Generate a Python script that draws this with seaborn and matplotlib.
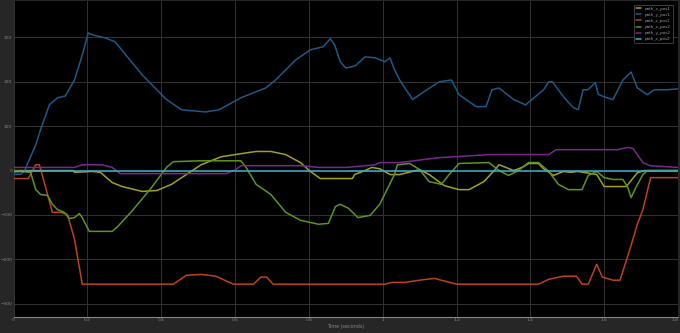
import numpy as np
import pandas as pd
import matplotlib
matplotlib.use("Agg")
import matplotlib.pyplot as plt
import seaborn as sns

# 各信号の (時刻, 値) を画像から読み取った値
path_y_pos1_t = [0.0, 0.02, 0.03, 0.06, 0.073, 0.097, 0.119, 0.14, 0.165, 0.186, 0.202, 0.213, 0.248, 0.275,
                 0.348, 0.414, 0.455, 0.52, 0.557, 0.616, 0.683, 0.71, 0.764, 0.804, 0.839, 0.858, 0.87, 0.885,
                 0.9, 0.926, 0.952, 0.98, 1.006, 1.02, 1.03, 1.046, 1.081, 1.1, 1.153, 1.186, 1.207, 1.253,
                 1.28, 1.296, 1.315, 1.355, 1.387, 1.436, 1.45, 1.46, 1.49, 1.516, 1.53, 1.543, 1.556, 1.576,
                 1.584, 1.6, 1.624, 1.651, 1.673, 1.69, 1.717, 1.736, 1.77, 1.8]
path_y_pos1_v = [-9, -8, 0, 58, 92, 148, 164, 168, 204, 260, 310, 306, 299, 290,
                 216, 160, 137, 132, 137, 164, 186, 204, 249, 272, 279, 297, 283, 245,
                 231, 236, 256, 254, 245, 254, 231, 204, 160, 171, 200, 204, 171, 144,
                 144, 182, 186, 160, 148, 182, 200, 200, 166, 142, 137, 182, 182, 198,
                 172, 166, 160, 204, 222, 186, 171, 182, 182, 184]

path_z_pos1_t = [0.0, 0.04, 0.06, 0.07, 0.092, 0.105, 0.127, 0.146, 0.165, 0.186, 0.433, 0.468, 0.508,
                 0.548, 0.595, 0.65, 0.67, 0.685, 0.703, 1.006, 1.025, 1.06, 1.1, 1.14, 1.2, 1.422, 1.45,
                 1.49, 1.525, 1.54, 1.557, 1.58, 1.595, 1.624, 1.643, 1.67, 1.69, 1.705, 1.718, 1.726, 1.8]
path_z_pos1_v = [-18, -18, 13, 13, -54, -94, -94, -99, -155, -256, -256, -236, -234,
                 -238, -256, -256, -240, -240, -256, -256, -252, -252, -247, -243, -256, -256, -245,
                 -238, -238, -256, -256, -211, -240, -247, -247, -177, -121, -88, -43, -16, -16]

path_x_pos1_t = [0.0, 0.16, 0.165, 0.213, 0.235, 0.267, 0.294, 0.348, 0.388, 0.428, 0.468, 0.508, 0.562,
                 0.616, 0.657, 0.697, 0.737, 0.777, 0.804, 0.831, 0.918, 0.924, 0.952, 0.97, 0.992, 1.02,
                 1.046, 1.1, 1.126, 1.167, 1.207, 1.234, 1.274, 1.3, 1.315, 1.328, 1.355, 1.368, 1.382,
                 1.396, 1.422, 1.436, 1.463, 1.49, 1.508, 1.53, 1.58, 1.6, 1.64, 1.66, 1.69, 1.71, 1.8]
path_x_pos1_v = [0, 0, -4, -2, -4, -27, -36, -47, -45, -31, -9, 13, 31,
                 38, 43, 43, 36, 18, -2, -18, -18, -9, 0, 7, 4, -9,
                 -9, 2, -9, -34, -43, -43, -25, -2, 13, 9, 0, 4, 9,
                 16, 16, 4, -11, -2, -4, -2, -9, -36, -36, -36, -5, 0, 0]

path_x_pos2_t = [0.0, 0.046, 0.06, 0.073, 0.092, 0.105, 0.119, 0.137, 0.151, 0.165, 0.178, 0.186, 0.205,
                 0.267, 0.28, 0.32, 0.374, 0.414, 0.433, 0.508, 0.616, 0.63, 0.657, 0.697, 0.737, 0.777,
                 0.826, 0.853, 0.872, 0.885, 0.907, 0.933, 0.966, 0.992, 1.032, 1.04, 1.073, 1.1, 1.126,
                 1.159, 1.18, 1.207, 1.288, 1.315, 1.341, 1.368, 1.395, 1.422, 1.45, 1.476, 1.503, 1.54,
                 1.557, 1.58, 1.6, 1.624, 1.651, 1.664, 1.673, 1.686, 1.705, 1.718, 1.8]
path_x_pos2_v = [0, -4, -43, -54, -56, -76, -88, -94, -108, -106, -97, -106, -137,
                 -137, -128, -92, -38, 7, 20, 22, 22, 7, -31, -54, -94, -112,
                 -121, -119, -81, -76, -85, -106, -101, -76, -9, 13, 16, 2, -25,
                 -31, -9, 16, 18, 0, -11, 0, 18, 18, -2, -31, -43, -43,
                 -11, -2, -16, -20, -20, -38, -61, -38, -9, 0, 0]

path_y_pos2_t = [0.0, 0.165, 0.186, 0.24, 0.267, 0.289, 0.348, 0.575, 0.602, 0.616, 0.777, 0.804, 0.826,
                 0.9, 0.98, 0.992, 1.046, 1.113, 1.153, 1.194, 1.288, 1.45, 1.47, 1.503, 1.637, 1.664,
                 1.678, 1.705, 1.724, 1.8]
path_y_pos2_v = [7, 7, 13, 13, 7, -7, -7, -7, 2, 11, 11, 9, 7,
                 7, 13, 18, 18, 25, 29, 31, 36, 36, 47, 47, 47, 52,
                 50, 18, 11, 7]

path_z_pos2_t = [0.0, 0.05, 0.3, 1.8]
path_z_pos2_v = [-3, -1, -1, -1]

labels = ["path_x_pos1", "path_y_pos1", "path_z_pos1", "path_x_pos2", "path_y_pos2", "path_z_pos2"]
colors = ["#a3a01e", "#1d5a88", "#bb421c", "#5c951f", "#77298f", "#3aaec6"]
series_t = [path_x_pos1_t, path_y_pos1_t, path_z_pos1_t, path_x_pos2_t, path_y_pos2_t, path_z_pos2_t]
series_v = [path_x_pos1_v, path_y_pos1_v, path_z_pos1_v, path_x_pos2_v, path_y_pos2_v, path_z_pos2_v]

x_ticks = [0, 0.2, 0.4, 0.6, 0.8, 1, 1.2, 1.4, 1.6, 1.8]
x_tick_labels = ["0", "0.2", "0.4", "0.6", "0.8", "1", "1.2", "1.4", "1.6", "1.8"]
y_ticks = [-300, -200, -100, 0, 100, 200, 300]

# ロング形式にまとめる
frames = []
for name, t, v in zip(labels, series_t, series_v):
    frames.append(pd.DataFrame({"time": t, "value": v, "signal": name}))
df = pd.concat(frames, ignore_index=True)

sns.set_style("dark")
plt.rcParams["font.family"] = ["DejaVu Sans"]

fig = plt.figure(figsize=(6.8, 3.33), dpi=100, facecolor="#262626")
ax = fig.add_axes([0.02, 0.048, 0.977, 0.949])
ax.set_facecolor("black")

sns.lineplot(data=df, x="time", y="value", hue="signal", hue_order=labels,
             palette=dict(zip(labels, colors)), estimator=None, sort=False,
             linewidth=1.1, ax=ax)

ax.set_xlim(0, 1.8)
ax.set_ylim(-330, 382)
ax.set_xticks(x_ticks)
ax.set_xticklabels(x_tick_labels)
ax.set_yticks(y_ticks)
ax.grid(True, color="#333333", linewidth=0.7)
ax.tick_params(colors="#858585", labelsize=3.2, length=2, pad=1, direction="in")
# 右端のラベルがはみ出さないように
ax.get_xticklabels()[-1].set_horizontalalignment("right")
for side in ["top", "right", "left"]:
    ax.spines[side].set_visible(False)
ax.spines["bottom"].set_color("#858585")
ax.spines["bottom"].set_linewidth(0.8)
ax.set_xlabel("Time (seconds)", color="#858585", fontsize=3.5, labelpad=1)
ax.set_ylabel("")

leg = ax.legend(loc="upper right", fontsize=3, frameon=True, handlelength=1.2,
                borderpad=0.5, labelspacing=0.5, bbox_to_anchor=(0.995, 0.995))
leg.get_frame().set_facecolor("black")
leg.get_frame().set_edgecolor("#6a6a6a")
leg.get_frame().set_linewidth(0.5)
for txt in leg.get_texts():
    txt.set_color("#9a9a9a")

fig.savefig("out.png", dpi=100, facecolor=fig.get_facecolor())
